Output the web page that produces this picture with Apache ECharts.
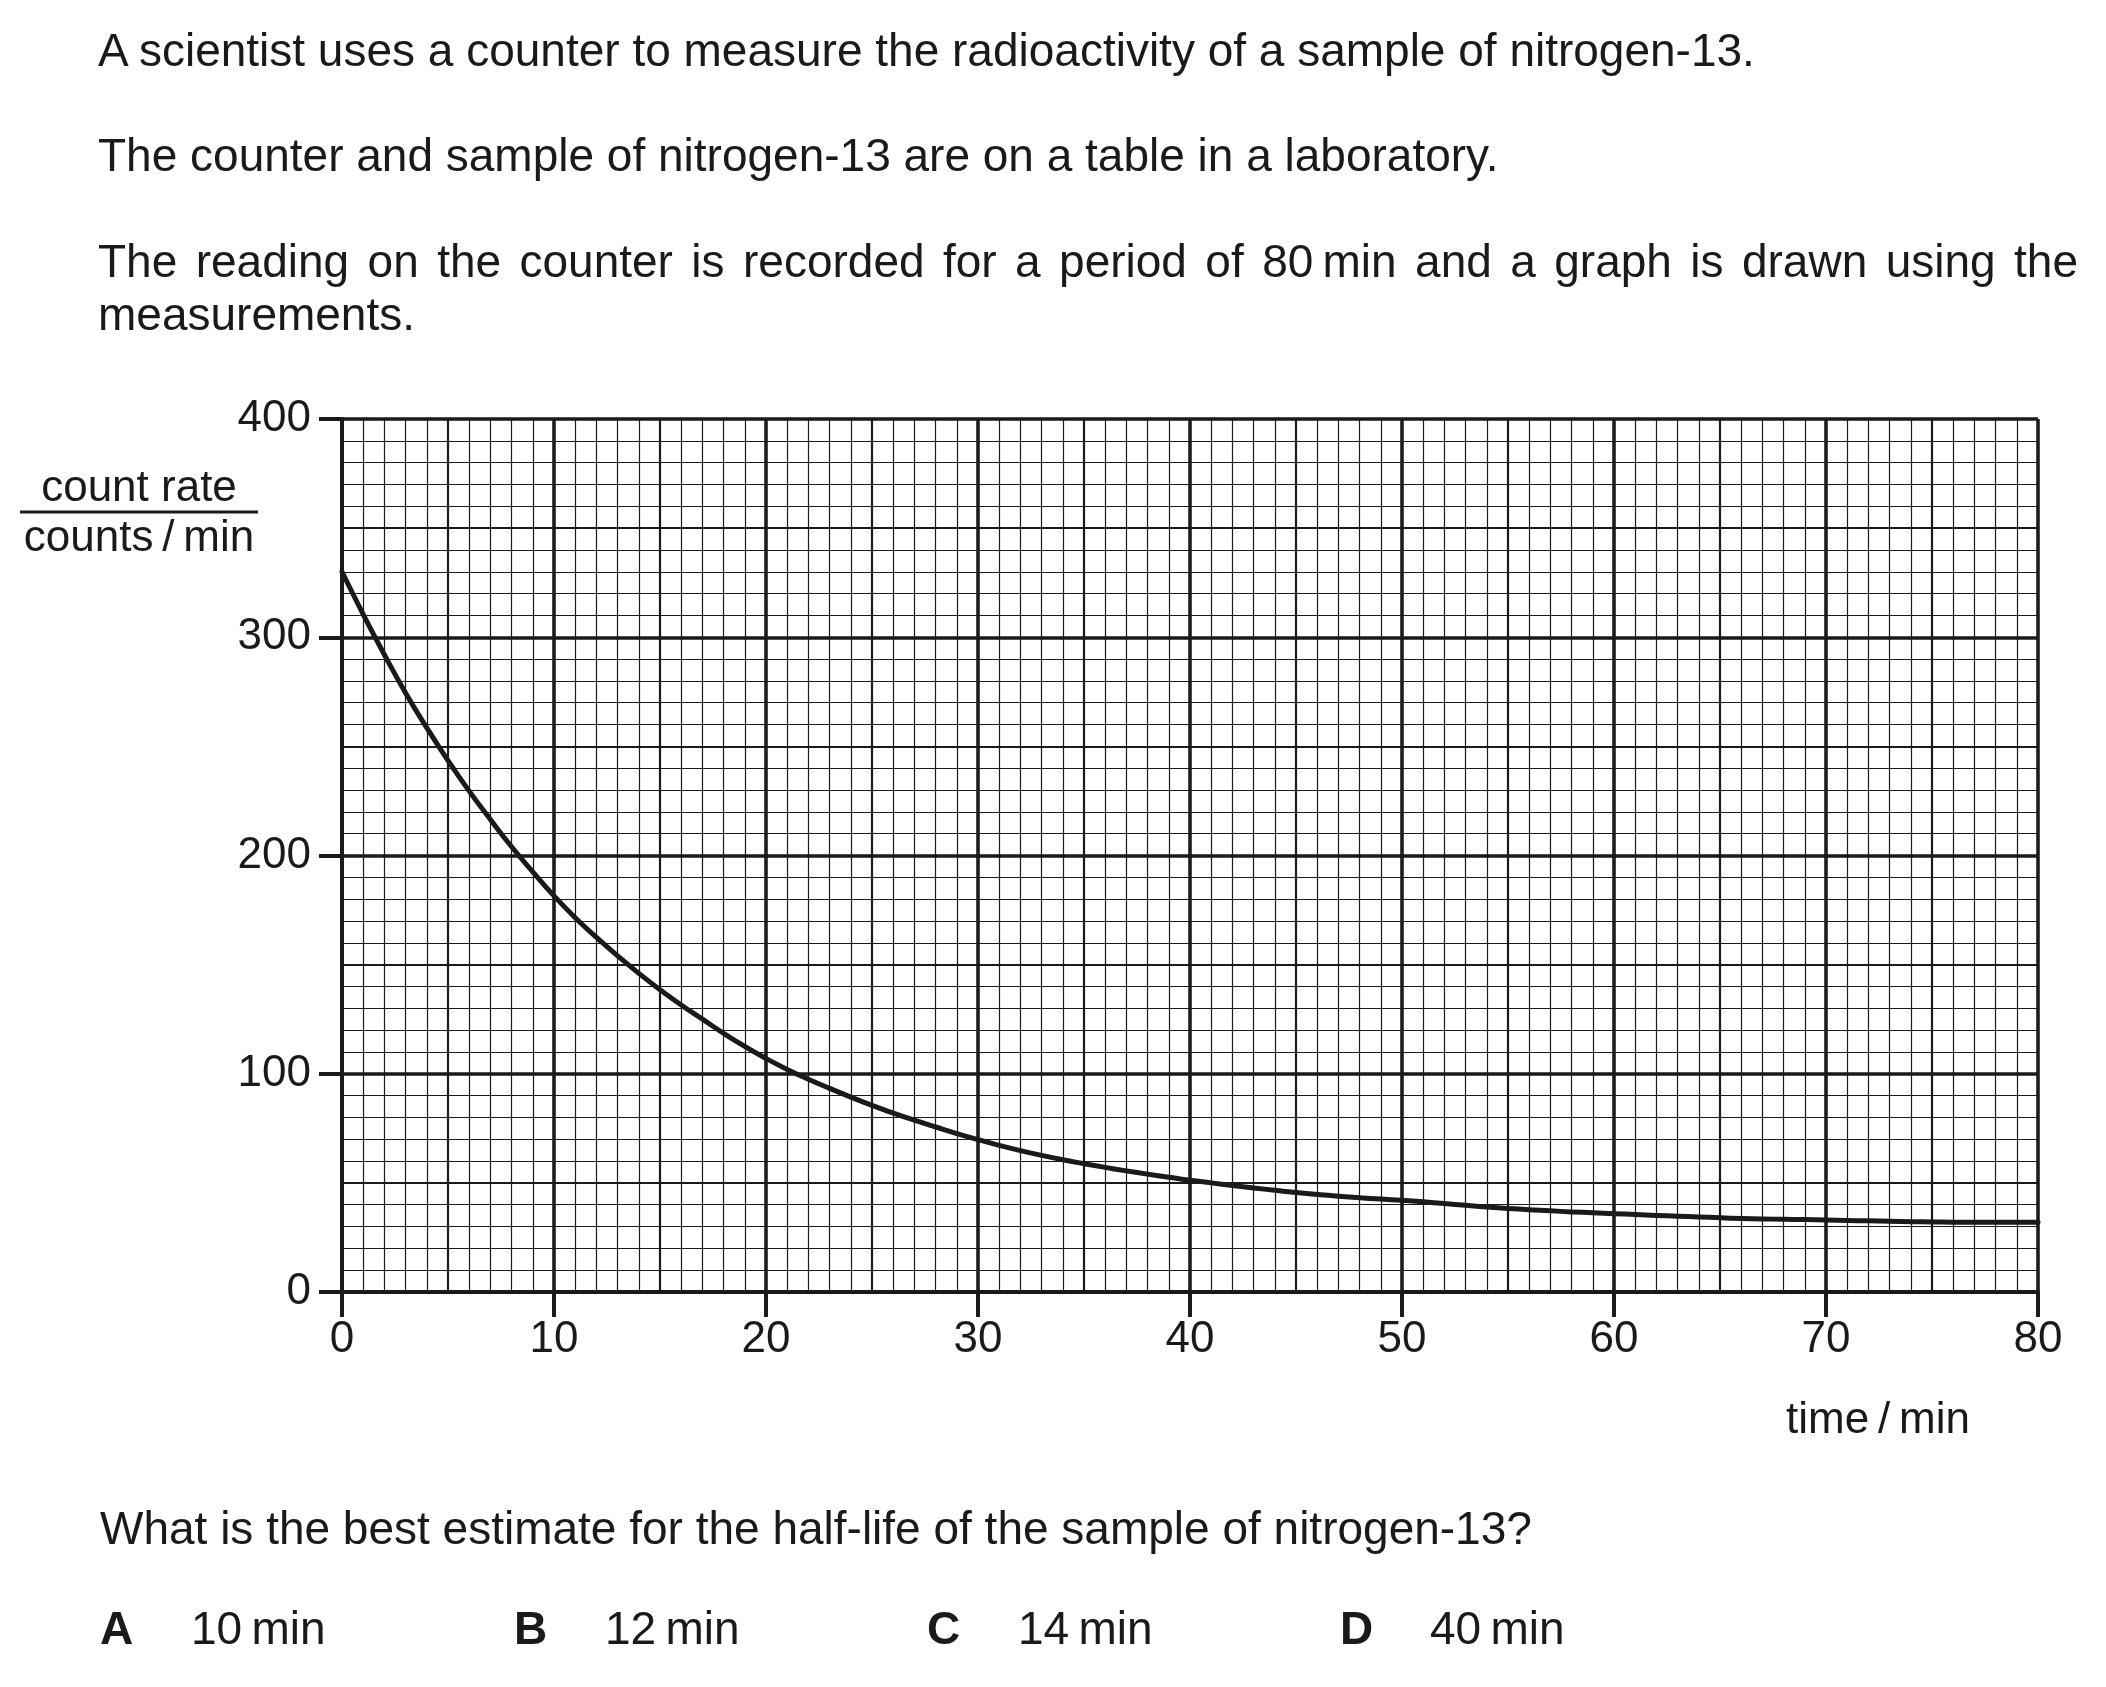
<!DOCTYPE html>
<html>
<head>
<meta charset="utf-8">
<script src="https://cdn.jsdelivr.net/npm/echarts@6/dist/echarts.min.js"></script>
<style>
  html, body { margin: 0; padding: 0; background: #fff; }
  body { width: 2106px; height: 1687px; position: relative; overflow: hidden; }
  #chart { position: absolute; left: 0; top: 0; width: 2106px; height: 1687px; }
  .t { position: absolute; font-family: "Liberation Sans", Arial, sans-serif; font-size: 46px; line-height: 46px; color: #1a1a1a; white-space: nowrap; }
  .j { white-space: normal; text-align: justify; text-align-last: justify; width: 1980px; }
  b { font-weight: bold; }
</style>
</head>
<body>
<div id="chart"></div>
<div class="t" style="left:98px;top:27px">A scientist uses a counter to measure the radioactivity of a sample of nitrogen-13.</div>
<div class="t" style="left:98px;top:132px">The counter and sample of nitrogen-13 are on a table in a laboratory.</div>
<div class="t j" style="left:98px;top:238px">The reading on the counter is recorded for a period of 80&#8201;min and a graph is drawn using the</div>
<div class="t" style="left:98px;top:291px">measurements.</div>
<div class="t" style="left:100px;top:1505px">What is the best estimate for the half-life of the sample of nitrogen-13?</div>
<div class="t" style="left:100px;top:1605px"><b>A</b></div>
<div class="t" style="left:191px;top:1605px">10&#8201;min</div>
<div class="t" style="left:514px;top:1605px"><b>B</b></div>
<div class="t" style="left:605px;top:1605px">12&#8201;min</div>
<div class="t" style="left:927px;top:1605px"><b>C</b></div>
<div class="t" style="left:1018px;top:1605px">14&#8201;min</div>
<div class="t" style="left:1340px;top:1605px"><b>D</b></div>
<div class="t" style="left:1430px;top:1605px">40&#8201;min</div>
<script>
// time in minutes
var times = [0,1,2,3,4,5,6,7,8,9,10,11,12,13,14,15,16,17,18,19,20,21,22,23,24,25,26,27,28,29,30,31,32,33,34,35,36,37,38,39,40,41,42,43,44,45,46,47,48,49,50,51,52,53,54,55,56,57,58,59,60,61,62,63,64,65,66,67,68,69,70,71,72,73,74,75,76,77,78,79,80];
// count rate in counts/min
var countRate = [330,310.5,292,274.5,258.5,243.5,229.5,216.5,204,192.5,181.5,171.5,162.5,154,146,138.5,131.5,125,118.5,112.5,107,102,97.5,93.3,89.3,85.5,82,78.7,75.6,72.6,69.8,67.2,64.8,62.6,60.6,58.8,57.1,55.5,54,52.6,51.2,50,48.8,47.7,46.6,45.6,44.7,43.9,43.2,42.6,42,41.3,40.5,39.7,39,38.3,37.7,37.2,36.7,36.3,35.9,35.5,35.1,34.7,34.4,34,33.7,33.5,33.3,33.2,33,32.8,32.6,32.4,32.2,32.1,32,32,32,32,32];
var xTickLabels = ['0','10','20','30','40','50','60','70','80'];
var yTickLabels = ['0','100','200','300','400'];
var yAxisName = ['count rate', 'counts\u2009/\u2009min'];
var xAxisName = 'time\u2009/\u2009min';

var INK = '#1a1a1a';
var FONT = '"Liberation Sans", Arial, sans-serif';

var seriesData = times.map(function (t, i) { return [t, countRate[i]]; });

var chart = echarts.init(document.getElementById('chart'), null, { renderer: 'canvas' });

function hiddenAxis(extra) {
  return Object.assign({
    type: 'value',
    axisLine: { show: false },
    axisTick: { show: false },
    axisLabel: { show: false },
    minorTick: { show: false, splitNumber: 5 },
    minorSplitLine: { show: true, lineStyle: { color: INK, width: 1.2 } },
    splitLine: { show: true, lineStyle: { color: INK, width: 2.2 } }
  }, extra);
}

chart.setOption({
  animation: false,
  backgroundColor: '#fff',
  grid: { left: 342, top: 419, right: 68, bottom: 395, containLabel: false },
  xAxis: [
    hiddenAxis({ min: 0, max: 80, interval: 5, position: 'bottom' }),
    {
      type: 'value', min: 0, max: 80, interval: 10, position: 'bottom',
      axisLine: { show: true, onZero: false, lineStyle: { color: INK, width: 4 } },
      axisTick: { show: true, inside: false, length: 25, lineStyle: { color: INK, width: 4 } },
      axisLabel: {
        show: true, margin: 26, color: INK, fontSize: 44, fontFamily: FONT,
        formatter: function (v) { return xTickLabels[Math.round(v / 10)]; }
      },
      splitLine: { show: true, lineStyle: { color: INK, width: 3.5 } }
    }
  ],
  yAxis: [
    hiddenAxis({ min: 0, max: 400, interval: 50, position: 'left', minorTick: { show: false, splitNumber: 5 } }),
    {
      type: 'value', min: 0, max: 400, interval: 100, position: 'left',
      axisLine: { show: true, onZero: false, lineStyle: { color: INK, width: 4 } },
      axisTick: { show: true, inside: false, length: 23, lineStyle: { color: INK, width: 4 } },
      axisLabel: {
        show: true, margin: 31, color: INK, fontSize: 44, fontFamily: FONT,
        formatter: function (v) { return yTickLabels[Math.round(v / 100)]; }
      },
      splitLine: { show: true, lineStyle: { color: INK, width: 3.5 } }
    }
  ],
  graphic: [
    { type: 'text', x: 139, y: 489, style: { text: yAxisName[0], font: '44px ' + FONT, fill: INK, align: 'center', verticalAlign: 'middle' } },
    { type: 'line', shape: { x1: 20, y1: 512, x2: 258, y2: 512 }, style: { stroke: INK, lineWidth: 3 } },
    { type: 'text', x: 139, y: 539, style: { text: yAxisName[1], font: '44px ' + FONT, fill: INK, align: 'center', verticalAlign: 'middle' } },
    { type: 'text', x: 1878, y: 1421, style: { text: xAxisName, font: '44px ' + FONT, fill: INK, align: 'center', verticalAlign: 'middle' } }
  ],
  series: [{
    type: 'line',
    xAxisIndex: 1,
    yAxisIndex: 1,
    data: seriesData,
    smooth: 0.5,
    showSymbol: false,
    symbol: 'none',
    lineStyle: { color: INK, width: 5, cap: 'round', join: 'round' },
    z: 5
  }]
});
</script>
</body>
</html>
